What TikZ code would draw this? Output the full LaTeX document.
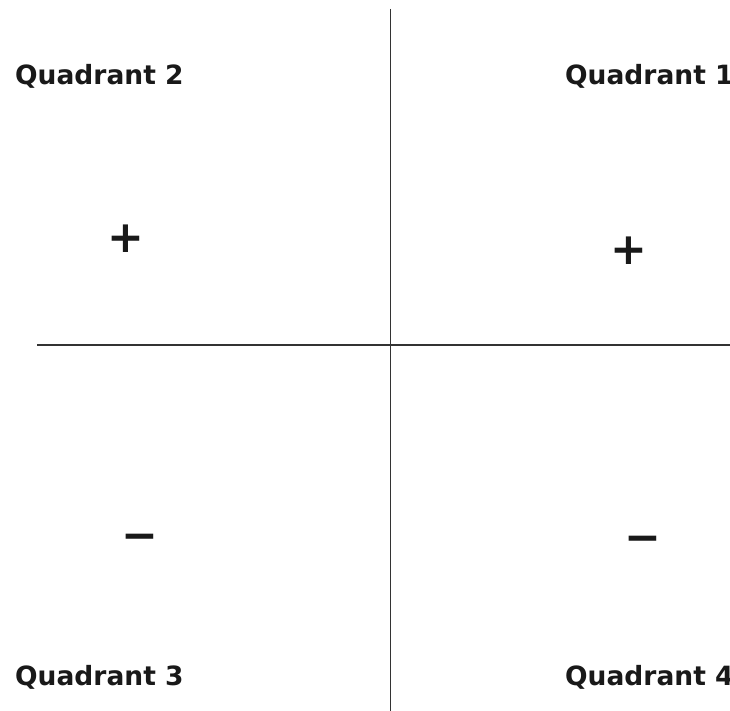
\documentclass[tikz,border=0pt]{standalone}
\usepackage{fontspec}
\setmainfont{DejaVu Sans}
\begin{document}
\begin{tikzpicture}[x=1pt,y=-1pt,
  qlabel/.style={font=\fontsize{26.5}{30}\selectfont\bfseries, text=black!90, inner sep=0pt, anchor=base west},
  sign/.style={font=\fontsize{44}{50}\selectfont\bfseries, text=black!90, inner sep=0pt},
  axis/.style={line width=1.8pt, draw=black!80}]
\useasboundingbox[fill=white] (0,0) rectangle (730,711);
\coordinate (vtop) at (390.5,9);
\coordinate (vbot) at (390.5,711);
\coordinate (hleft) at (37,345);
\coordinate (hright) at (730,345);
\draw[axis] (vtop) -- (vbot);
\draw[axis] (hleft) -- (hright);
\node[qlabel] (q2) at (15,85) {Quadrant 2};
\node[qlabel] (q1) at (565,85) {Quadrant 1};
\node[qlabel] (q3) at (15,685) {Quadrant 3};
\node[qlabel] (q4) at (565,685) {Quadrant 4};
\node[sign] (p2) at (126,239) {+};
\node[sign] (p1) at (629,251) {+};
\node[sign] (m3) at (140,542) {−};
\node[sign] (m4) at (643,544) {−};
\end{tikzpicture}
\end{document}
